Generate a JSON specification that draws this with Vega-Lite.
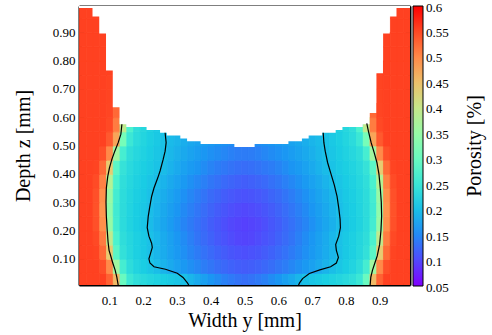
{
  "$schema": "https://vega.github.io/schema/vega-lite/v6.json",
  "width": 331,
  "height": 279,
  "autosize": {"type": "none"},
  "padding": {"left": 79, "top": 6, "right": 82, "bottom": 50},
  "background": "white",
  "config": {
    "view": {"stroke": null},
    "font": "Liberation Serif",
    "axis": {
      "labelFont": "Liberation Serif",
      "titleFont": "Liberation Serif",
      "labelFontSize": 13,
      "titleFontSize": 20,
      "titleFontWeight": "normal",
      "labelColor": "black",
      "titleColor": "black",
      "tickColor": "black",
      "domainColor": "black",
      "domainWidth": 2,
      "grid": false,
      "zindex": 1,
      "labelOverlap": false,
      "labelFlush": false,
      "labelBound": false
    },
    "legend": {
      "labelFont": "Liberation Serif",
      "titleFont": "Liberation Serif",
      "labelColor": "black",
      "titleColor": "black"
    }
  },
  "datasets": {
    "porosity": [
      {"y":0.02,"z":0.025,"p":0.555},{"y":0.04,"z":0.025,"p":0.555},{"y":0.06,"z":0.025,"p":0.555},{"y":0.08,"z":0.025,"p":0.555},{"y":0.1,"z":0.025,"p":0.53},{"y":0.12,"z":0.025,"p":0.456},{"y":0.14,"z":0.025,"p":0.3},{"y":0.16,"z":0.025,"p":0.252},{"y":0.18,"z":0.025,"p":0.239},{"y":0.2,"z":0.025,"p":0.232},{"y":0.22,"z":0.025,"p":0.226},{"y":0.24,"z":0.025,"p":0.221},{"y":0.26,"z":0.025,"p":0.216},{"y":0.28,"z":0.025,"p":0.211},{"y":0.3,"z":0.025,"p":0.206},{"y":0.32,"z":0.025,"p":0.201},{"y":0.34,"z":0.025,"p":0.191},{"y":0.36,"z":0.025,"p":0.18},{"y":0.38,"z":0.025,"p":0.17},{"y":0.4,"z":0.025,"p":0.16},{"y":0.42,"z":0.025,"p":0.152},{"y":0.44,"z":0.025,"p":0.144},{"y":0.46,"z":0.025,"p":0.138},{"y":0.48,"z":0.025,"p":0.133},{"y":0.5,"z":0.025,"p":0.13},{"y":0.52,"z":0.025,"p":0.133},{"y":0.54,"z":0.025,"p":0.138},{"y":0.56,"z":0.025,"p":0.144},{"y":0.58,"z":0.025,"p":0.152},{"y":0.6,"z":0.025,"p":0.16},{"y":0.62,"z":0.025,"p":0.17},{"y":0.64,"z":0.025,"p":0.18},{"y":0.66,"z":0.025,"p":0.191},{"y":0.68,"z":0.025,"p":0.201},{"y":0.7,"z":0.025,"p":0.206},{"y":0.72,"z":0.025,"p":0.211},{"y":0.74,"z":0.025,"p":0.216},{"y":0.76,"z":0.025,"p":0.221},{"y":0.78,"z":0.025,"p":0.226},{"y":0.8,"z":0.025,"p":0.232},{"y":0.82,"z":0.025,"p":0.239},{"y":0.84,"z":0.025,"p":0.252},{"y":0.86,"z":0.025,"p":0.3},{"y":0.88,"z":0.025,"p":0.456},{"y":0.9,"z":0.025,"p":0.53},{"y":0.92,"z":0.025,"p":0.555},{"y":0.94,"z":0.025,"p":0.555},{"y":0.96,"z":0.025,"p":0.555},{"y":0.98,"z":0.025,"p":0.555},
      {"y":0.02,"z":0.075,"p":0.555},{"y":0.04,"z":0.075,"p":0.555},{"y":0.06,"z":0.075,"p":0.555},{"y":0.08,"z":0.075,"p":0.545},{"y":0.1,"z":0.075,"p":0.499},{"y":0.12,"z":0.075,"p":0.36},{"y":0.14,"z":0.075,"p":0.261},{"y":0.16,"z":0.075,"p":0.236},{"y":0.18,"z":0.075,"p":0.224},{"y":0.2,"z":0.075,"p":0.215},{"y":0.22,"z":0.075,"p":0.207},{"y":0.24,"z":0.075,"p":0.199},{"y":0.26,"z":0.075,"p":0.189},{"y":0.28,"z":0.075,"p":0.18},{"y":0.3,"z":0.075,"p":0.171},{"y":0.32,"z":0.075,"p":0.163},{"y":0.34,"z":0.075,"p":0.155},{"y":0.36,"z":0.075,"p":0.148},{"y":0.38,"z":0.075,"p":0.141},{"y":0.4,"z":0.075,"p":0.135},{"y":0.42,"z":0.075,"p":0.129},{"y":0.44,"z":0.075,"p":0.124},{"y":0.46,"z":0.075,"p":0.12},{"y":0.48,"z":0.075,"p":0.117},{"y":0.5,"z":0.075,"p":0.115},{"y":0.52,"z":0.075,"p":0.117},{"y":0.54,"z":0.075,"p":0.12},{"y":0.56,"z":0.075,"p":0.124},{"y":0.58,"z":0.075,"p":0.129},{"y":0.6,"z":0.075,"p":0.135},{"y":0.62,"z":0.075,"p":0.141},{"y":0.64,"z":0.075,"p":0.148},{"y":0.66,"z":0.075,"p":0.155},{"y":0.68,"z":0.075,"p":0.163},{"y":0.7,"z":0.075,"p":0.171},{"y":0.72,"z":0.075,"p":0.18},{"y":0.74,"z":0.075,"p":0.189},{"y":0.76,"z":0.075,"p":0.199},{"y":0.78,"z":0.075,"p":0.207},{"y":0.8,"z":0.075,"p":0.215},{"y":0.82,"z":0.075,"p":0.224},{"y":0.84,"z":0.075,"p":0.236},{"y":0.86,"z":0.075,"p":0.261},{"y":0.88,"z":0.075,"p":0.36},{"y":0.9,"z":0.075,"p":0.499},{"y":0.92,"z":0.075,"p":0.545},{"y":0.94,"z":0.075,"p":0.555},{"y":0.96,"z":0.075,"p":0.555},{"y":0.98,"z":0.075,"p":0.555},
      {"y":0.02,"z":0.125,"p":0.555},{"y":0.04,"z":0.125,"p":0.555},{"y":0.06,"z":0.125,"p":0.553},{"y":0.08,"z":0.125,"p":0.524},{"y":0.1,"z":0.125,"p":0.438},{"y":0.12,"z":0.125,"p":0.284},{"y":0.14,"z":0.125,"p":0.242},{"y":0.16,"z":0.125,"p":0.228},{"y":0.18,"z":0.125,"p":0.218},{"y":0.2,"z":0.125,"p":0.21},{"y":0.22,"z":0.125,"p":0.201},{"y":0.24,"z":0.125,"p":0.191},{"y":0.26,"z":0.125,"p":0.182},{"y":0.28,"z":0.125,"p":0.172},{"y":0.3,"z":0.125,"p":0.163},{"y":0.32,"z":0.125,"p":0.155},{"y":0.34,"z":0.125,"p":0.147},{"y":0.36,"z":0.125,"p":0.139},{"y":0.38,"z":0.125,"p":0.132},{"y":0.4,"z":0.125,"p":0.126},{"y":0.42,"z":0.125,"p":0.12},{"y":0.44,"z":0.125,"p":0.115},{"y":0.46,"z":0.125,"p":0.11},{"y":0.48,"z":0.125,"p":0.107},{"y":0.5,"z":0.125,"p":0.105},{"y":0.52,"z":0.125,"p":0.107},{"y":0.54,"z":0.125,"p":0.11},{"y":0.56,"z":0.125,"p":0.115},{"y":0.58,"z":0.125,"p":0.12},{"y":0.6,"z":0.125,"p":0.126},{"y":0.62,"z":0.125,"p":0.132},{"y":0.64,"z":0.125,"p":0.139},{"y":0.66,"z":0.125,"p":0.147},{"y":0.68,"z":0.125,"p":0.155},{"y":0.7,"z":0.125,"p":0.163},{"y":0.72,"z":0.125,"p":0.172},{"y":0.74,"z":0.125,"p":0.182},{"y":0.76,"z":0.125,"p":0.191},{"y":0.78,"z":0.125,"p":0.201},{"y":0.8,"z":0.125,"p":0.21},{"y":0.82,"z":0.125,"p":0.218},{"y":0.84,"z":0.125,"p":0.228},{"y":0.86,"z":0.125,"p":0.242},{"y":0.88,"z":0.125,"p":0.284},{"y":0.9,"z":0.125,"p":0.438},{"y":0.92,"z":0.125,"p":0.524},{"y":0.94,"z":0.125,"p":0.553},{"y":0.96,"z":0.125,"p":0.555},{"y":0.98,"z":0.125,"p":0.555},
      {"y":0.02,"z":0.175,"p":0.555},{"y":0.04,"z":0.175,"p":0.555},{"y":0.06,"z":0.175,"p":0.549},{"y":0.08,"z":0.175,"p":0.51},{"y":0.1,"z":0.175,"p":0.393},{"y":0.12,"z":0.175,"p":0.268},{"y":0.14,"z":0.175,"p":0.238},{"y":0.16,"z":0.175,"p":0.227},{"y":0.18,"z":0.175,"p":0.218},{"y":0.2,"z":0.175,"p":0.21},{"y":0.22,"z":0.175,"p":0.202},{"y":0.24,"z":0.175,"p":0.192},{"y":0.26,"z":0.175,"p":0.181},{"y":0.28,"z":0.175,"p":0.171},{"y":0.3,"z":0.175,"p":0.161},{"y":0.32,"z":0.175,"p":0.152},{"y":0.34,"z":0.175,"p":0.143},{"y":0.36,"z":0.175,"p":0.134},{"y":0.38,"z":0.175,"p":0.127},{"y":0.4,"z":0.175,"p":0.12},{"y":0.42,"z":0.175,"p":0.113},{"y":0.44,"z":0.175,"p":0.108},{"y":0.46,"z":0.175,"p":0.103},{"y":0.48,"z":0.175,"p":0.099},{"y":0.5,"z":0.175,"p":0.097},{"y":0.52,"z":0.175,"p":0.099},{"y":0.54,"z":0.175,"p":0.103},{"y":0.56,"z":0.175,"p":0.108},{"y":0.58,"z":0.175,"p":0.113},{"y":0.6,"z":0.175,"p":0.12},{"y":0.62,"z":0.175,"p":0.127},{"y":0.64,"z":0.175,"p":0.134},{"y":0.66,"z":0.175,"p":0.143},{"y":0.68,"z":0.175,"p":0.152},{"y":0.7,"z":0.175,"p":0.161},{"y":0.72,"z":0.175,"p":0.171},{"y":0.74,"z":0.175,"p":0.181},{"y":0.76,"z":0.175,"p":0.192},{"y":0.78,"z":0.175,"p":0.202},{"y":0.8,"z":0.175,"p":0.21},{"y":0.82,"z":0.175,"p":0.218},{"y":0.84,"z":0.175,"p":0.227},{"y":0.86,"z":0.175,"p":0.238},{"y":0.88,"z":0.175,"p":0.268},{"y":0.9,"z":0.175,"p":0.393},{"y":0.92,"z":0.175,"p":0.51},{"y":0.94,"z":0.175,"p":0.549},{"y":0.96,"z":0.175,"p":0.555},{"y":0.98,"z":0.175,"p":0.555},
      {"y":0.02,"z":0.225,"p":0.555},{"y":0.04,"z":0.225,"p":0.555},{"y":0.06,"z":0.225,"p":0.544},{"y":0.08,"z":0.225,"p":0.495},{"y":0.1,"z":0.225,"p":0.35},{"y":0.12,"z":0.225,"p":0.259},{"y":0.14,"z":0.225,"p":0.234},{"y":0.16,"z":0.225,"p":0.223},{"y":0.18,"z":0.225,"p":0.214},{"y":0.2,"z":0.225,"p":0.206},{"y":0.22,"z":0.225,"p":0.197},{"y":0.24,"z":0.225,"p":0.186},{"y":0.26,"z":0.225,"p":0.176},{"y":0.28,"z":0.225,"p":0.166},{"y":0.3,"z":0.225,"p":0.156},{"y":0.32,"z":0.225,"p":0.147},{"y":0.34,"z":0.225,"p":0.139},{"y":0.36,"z":0.225,"p":0.131},{"y":0.38,"z":0.225,"p":0.124},{"y":0.4,"z":0.225,"p":0.117},{"y":0.42,"z":0.225,"p":0.111},{"y":0.44,"z":0.225,"p":0.105},{"y":0.46,"z":0.225,"p":0.1},{"y":0.48,"z":0.225,"p":0.097},{"y":0.5,"z":0.225,"p":0.095},{"y":0.52,"z":0.225,"p":0.097},{"y":0.54,"z":0.225,"p":0.1},{"y":0.56,"z":0.225,"p":0.105},{"y":0.58,"z":0.225,"p":0.111},{"y":0.6,"z":0.225,"p":0.117},{"y":0.62,"z":0.225,"p":0.124},{"y":0.64,"z":0.225,"p":0.131},{"y":0.66,"z":0.225,"p":0.139},{"y":0.68,"z":0.225,"p":0.147},{"y":0.7,"z":0.225,"p":0.156},{"y":0.72,"z":0.225,"p":0.166},{"y":0.74,"z":0.225,"p":0.176},{"y":0.76,"z":0.225,"p":0.186},{"y":0.78,"z":0.225,"p":0.197},{"y":0.8,"z":0.225,"p":0.206},{"y":0.82,"z":0.225,"p":0.214},{"y":0.84,"z":0.225,"p":0.223},{"y":0.86,"z":0.225,"p":0.234},{"y":0.88,"z":0.225,"p":0.259},{"y":0.9,"z":0.225,"p":0.35},{"y":0.92,"z":0.225,"p":0.495},{"y":0.94,"z":0.225,"p":0.544},{"y":0.96,"z":0.225,"p":0.555},{"y":0.98,"z":0.225,"p":0.555},
      {"y":0.02,"z":0.275,"p":0.555},{"y":0.04,"z":0.275,"p":0.555},{"y":0.06,"z":0.275,"p":0.543},{"y":0.08,"z":0.275,"p":0.491},{"y":0.1,"z":0.275,"p":0.342},{"y":0.12,"z":0.275,"p":0.257},{"y":0.14,"z":0.275,"p":0.235},{"y":0.16,"z":0.275,"p":0.224},{"y":0.18,"z":0.275,"p":0.215},{"y":0.2,"z":0.275,"p":0.208},{"y":0.22,"z":0.275,"p":0.199},{"y":0.24,"z":0.275,"p":0.189},{"y":0.26,"z":0.275,"p":0.179},{"y":0.28,"z":0.275,"p":0.169},{"y":0.3,"z":0.275,"p":0.16},{"y":0.32,"z":0.275,"p":0.151},{"y":0.34,"z":0.275,"p":0.143},{"y":0.36,"z":0.275,"p":0.135},{"y":0.38,"z":0.275,"p":0.128},{"y":0.4,"z":0.275,"p":0.121},{"y":0.42,"z":0.275,"p":0.115},{"y":0.44,"z":0.275,"p":0.11},{"y":0.46,"z":0.275,"p":0.105},{"y":0.48,"z":0.275,"p":0.102},{"y":0.5,"z":0.275,"p":0.1},{"y":0.52,"z":0.275,"p":0.102},{"y":0.54,"z":0.275,"p":0.105},{"y":0.56,"z":0.275,"p":0.11},{"y":0.58,"z":0.275,"p":0.115},{"y":0.6,"z":0.275,"p":0.121},{"y":0.62,"z":0.275,"p":0.128},{"y":0.64,"z":0.275,"p":0.135},{"y":0.66,"z":0.275,"p":0.143},{"y":0.68,"z":0.275,"p":0.151},{"y":0.7,"z":0.275,"p":0.16},{"y":0.72,"z":0.275,"p":0.169},{"y":0.74,"z":0.275,"p":0.179},{"y":0.76,"z":0.275,"p":0.189},{"y":0.78,"z":0.275,"p":0.199},{"y":0.8,"z":0.275,"p":0.208},{"y":0.82,"z":0.275,"p":0.215},{"y":0.84,"z":0.275,"p":0.224},{"y":0.86,"z":0.275,"p":0.235},{"y":0.88,"z":0.275,"p":0.257},{"y":0.9,"z":0.275,"p":0.342},{"y":0.92,"z":0.275,"p":0.491},{"y":0.94,"z":0.275,"p":0.543},{"y":0.96,"z":0.275,"p":0.555},{"y":0.98,"z":0.275,"p":0.555},
      {"y":0.02,"z":0.325,"p":0.555},{"y":0.04,"z":0.325,"p":0.555},{"y":0.06,"z":0.325,"p":0.544},{"y":0.08,"z":0.325,"p":0.495},{"y":0.1,"z":0.325,"p":0.351},{"y":0.12,"z":0.325,"p":0.26},{"y":0.14,"z":0.325,"p":0.236},{"y":0.16,"z":0.325,"p":0.225},{"y":0.18,"z":0.325,"p":0.217},{"y":0.2,"z":0.325,"p":0.21},{"y":0.22,"z":0.325,"p":0.202},{"y":0.24,"z":0.325,"p":0.192},{"y":0.26,"z":0.325,"p":0.183},{"y":0.28,"z":0.325,"p":0.174},{"y":0.3,"z":0.325,"p":0.165},{"y":0.32,"z":0.325,"p":0.156},{"y":0.34,"z":0.325,"p":0.148},{"y":0.36,"z":0.325,"p":0.141},{"y":0.38,"z":0.325,"p":0.134},{"y":0.4,"z":0.325,"p":0.127},{"y":0.42,"z":0.325,"p":0.122},{"y":0.44,"z":0.325,"p":0.116},{"y":0.46,"z":0.325,"p":0.112},{"y":0.48,"z":0.325,"p":0.109},{"y":0.5,"z":0.325,"p":0.107},{"y":0.52,"z":0.325,"p":0.109},{"y":0.54,"z":0.325,"p":0.112},{"y":0.56,"z":0.325,"p":0.116},{"y":0.58,"z":0.325,"p":0.122},{"y":0.6,"z":0.325,"p":0.127},{"y":0.62,"z":0.325,"p":0.134},{"y":0.64,"z":0.325,"p":0.141},{"y":0.66,"z":0.325,"p":0.148},{"y":0.68,"z":0.325,"p":0.156},{"y":0.7,"z":0.325,"p":0.165},{"y":0.72,"z":0.325,"p":0.174},{"y":0.74,"z":0.325,"p":0.183},{"y":0.76,"z":0.325,"p":0.192},{"y":0.78,"z":0.325,"p":0.202},{"y":0.8,"z":0.325,"p":0.21},{"y":0.82,"z":0.325,"p":0.217},{"y":0.84,"z":0.325,"p":0.225},{"y":0.86,"z":0.325,"p":0.236},{"y":0.88,"z":0.325,"p":0.26},{"y":0.9,"z":0.325,"p":0.351},{"y":0.92,"z":0.325,"p":0.495},{"y":0.94,"z":0.325,"p":0.544},{"y":0.96,"z":0.325,"p":0.555},{"y":0.98,"z":0.325,"p":0.555},
      {"y":0.02,"z":0.375,"p":0.555},{"y":0.04,"z":0.375,"p":0.555},{"y":0.06,"z":0.375,"p":0.548},{"y":0.08,"z":0.375,"p":0.506},{"y":0.1,"z":0.375,"p":0.381},{"y":0.12,"z":0.375,"p":0.267},{"y":0.14,"z":0.375,"p":0.239},{"y":0.16,"z":0.375,"p":0.228},{"y":0.18,"z":0.375,"p":0.22},{"y":0.2,"z":0.375,"p":0.213},{"y":0.22,"z":0.375,"p":0.206},{"y":0.24,"z":0.375,"p":0.199},{"y":0.26,"z":0.375,"p":0.189},{"y":0.28,"z":0.375,"p":0.18},{"y":0.3,"z":0.375,"p":0.172},{"y":0.32,"z":0.375,"p":0.164},{"y":0.34,"z":0.375,"p":0.156},{"y":0.36,"z":0.375,"p":0.149},{"y":0.38,"z":0.375,"p":0.143},{"y":0.4,"z":0.375,"p":0.136},{"y":0.42,"z":0.375,"p":0.131},{"y":0.44,"z":0.375,"p":0.126},{"y":0.46,"z":0.375,"p":0.122},{"y":0.48,"z":0.375,"p":0.119},{"y":0.5,"z":0.375,"p":0.117},{"y":0.52,"z":0.375,"p":0.119},{"y":0.54,"z":0.375,"p":0.122},{"y":0.56,"z":0.375,"p":0.126},{"y":0.58,"z":0.375,"p":0.131},{"y":0.6,"z":0.375,"p":0.136},{"y":0.62,"z":0.375,"p":0.143},{"y":0.64,"z":0.375,"p":0.149},{"y":0.66,"z":0.375,"p":0.156},{"y":0.68,"z":0.375,"p":0.164},{"y":0.7,"z":0.375,"p":0.172},{"y":0.72,"z":0.375,"p":0.18},{"y":0.74,"z":0.375,"p":0.189},{"y":0.76,"z":0.375,"p":0.199},{"y":0.78,"z":0.375,"p":0.206},{"y":0.8,"z":0.375,"p":0.213},{"y":0.82,"z":0.375,"p":0.22},{"y":0.84,"z":0.375,"p":0.228},{"y":0.86,"z":0.375,"p":0.239},{"y":0.88,"z":0.375,"p":0.267},{"y":0.9,"z":0.375,"p":0.381},{"y":0.92,"z":0.375,"p":0.506},{"y":0.94,"z":0.375,"p":0.548},{"y":0.96,"z":0.375,"p":0.555},{"y":0.98,"z":0.375,"p":0.555},
      {"y":0.02,"z":0.425,"p":0.555},{"y":0.04,"z":0.425,"p":0.555},{"y":0.06,"z":0.425,"p":0.553},{"y":0.08,"z":0.425,"p":0.524},{"y":0.1,"z":0.425,"p":0.438},{"y":0.12,"z":0.425,"p":0.285},{"y":0.14,"z":0.425,"p":0.245},{"y":0.16,"z":0.425,"p":0.232},{"y":0.18,"z":0.425,"p":0.224},{"y":0.2,"z":0.425,"p":0.217},{"y":0.22,"z":0.425,"p":0.211},{"y":0.24,"z":0.425,"p":0.204},{"y":0.26,"z":0.425,"p":0.197},{"y":0.28,"z":0.425,"p":0.188},{"y":0.3,"z":0.425,"p":0.18},{"y":0.32,"z":0.425,"p":0.172},{"y":0.34,"z":0.425,"p":0.165},{"y":0.36,"z":0.425,"p":0.159},{"y":0.38,"z":0.425,"p":0.152},{"y":0.4,"z":0.425,"p":0.146},{"y":0.42,"z":0.425,"p":0.141},{"y":0.44,"z":0.425,"p":0.137},{"y":0.46,"z":0.425,"p":0.133},{"y":0.48,"z":0.425,"p":0.13},{"y":0.5,"z":0.425,"p":0.128},{"y":0.52,"z":0.425,"p":0.13},{"y":0.54,"z":0.425,"p":0.133},{"y":0.56,"z":0.425,"p":0.137},{"y":0.58,"z":0.425,"p":0.141},{"y":0.6,"z":0.425,"p":0.146},{"y":0.62,"z":0.425,"p":0.152},{"y":0.64,"z":0.425,"p":0.159},{"y":0.66,"z":0.425,"p":0.165},{"y":0.68,"z":0.425,"p":0.172},{"y":0.7,"z":0.425,"p":0.18},{"y":0.72,"z":0.425,"p":0.188},{"y":0.74,"z":0.425,"p":0.197},{"y":0.76,"z":0.425,"p":0.204},{"y":0.78,"z":0.425,"p":0.211},{"y":0.8,"z":0.425,"p":0.217},{"y":0.82,"z":0.425,"p":0.224},{"y":0.84,"z":0.425,"p":0.232},{"y":0.86,"z":0.425,"p":0.245},{"y":0.88,"z":0.425,"p":0.285},{"y":0.9,"z":0.425,"p":0.438},{"y":0.92,"z":0.425,"p":0.524},{"y":0.94,"z":0.425,"p":0.553},{"y":0.96,"z":0.425,"p":0.555},{"y":0.98,"z":0.425,"p":0.555},
      {"y":0.02,"z":0.475,"p":0.555},{"y":0.04,"z":0.475,"p":0.555},{"y":0.06,"z":0.475,"p":0.555},{"y":0.08,"z":0.475,"p":0.545},{"y":0.1,"z":0.475,"p":0.499},{"y":0.12,"z":0.475,"p":0.36},{"y":0.14,"z":0.475,"p":0.262},{"y":0.16,"z":0.475,"p":0.238},{"y":0.18,"z":0.475,"p":0.229},{"y":0.2,"z":0.475,"p":0.221},{"y":0.22,"z":0.475,"p":0.214},{"y":0.24,"z":0.475,"p":0.207},{"y":0.26,"z":0.475,"p":0.201},{"y":0.28,"z":0.475,"p":0.193},{"y":0.3,"z":0.475,"p":0.186},{"y":0.32,"z":0.475,"p":0.179},{"y":0.34,"z":0.475,"p":0.173},{"y":0.36,"z":0.475,"p":0.167},{"y":0.38,"z":0.475,"p":0.161},{"y":0.4,"z":0.475,"p":0.156},{"y":0.42,"z":0.475,"p":0.152},{"y":0.44,"z":0.475,"p":0.148},{"y":0.46,"z":0.475,"p":0.144},{"y":0.48,"z":0.475,"p":0.141},{"y":0.5,"z":0.475,"p":0.14},{"y":0.52,"z":0.475,"p":0.141},{"y":0.54,"z":0.475,"p":0.144},{"y":0.56,"z":0.475,"p":0.148},{"y":0.58,"z":0.475,"p":0.152},{"y":0.6,"z":0.475,"p":0.156},{"y":0.62,"z":0.475,"p":0.161},{"y":0.64,"z":0.475,"p":0.167},{"y":0.66,"z":0.475,"p":0.173},{"y":0.68,"z":0.475,"p":0.179},{"y":0.7,"z":0.475,"p":0.186},{"y":0.72,"z":0.475,"p":0.193},{"y":0.74,"z":0.475,"p":0.201},{"y":0.76,"z":0.475,"p":0.207},{"y":0.78,"z":0.475,"p":0.214},{"y":0.8,"z":0.475,"p":0.221},{"y":0.82,"z":0.475,"p":0.229},{"y":0.84,"z":0.475,"p":0.238},{"y":0.86,"z":0.475,"p":0.262},{"y":0.88,"z":0.475,"p":0.36},{"y":0.9,"z":0.475,"p":0.499},{"y":0.92,"z":0.475,"p":0.545},{"y":0.94,"z":0.475,"p":0.555},{"y":0.96,"z":0.475,"p":0.555},{"y":0.98,"z":0.475,"p":0.555},
      {"y":0.02,"z":0.525,"p":0.555},{"y":0.04,"z":0.525,"p":0.555},{"y":0.06,"z":0.525,"p":0.555},{"y":0.08,"z":0.525,"p":0.555},{"y":0.1,"z":0.525,"p":0.537},{"y":0.12,"z":0.525,"p":0.475},{"y":0.14,"z":0.525,"p":0.314},{"y":0.16,"z":0.525,"p":0.252},{"y":0.18,"z":0.525,"p":0.234},{"y":0.2,"z":0.525,"p":0.225},{"y":0.22,"z":0.525,"p":0.217},{"y":0.24,"z":0.525,"p":0.21},{"y":0.26,"z":0.525,"p":0.203},{"y":0.28,"z":0.525,"p":0.196},{"y":0.3,"z":0.525,"p":0.19},{"y":0.32,"z":0.525,"p":0.184},{"y":0.34,"z":0.525,"p":0.178},{"y":0.36,"z":0.525,"p":0.173},{"y":0.38,"z":0.525,"p":0.168},{"y":0.4,"z":0.525,"p":0.164},{"y":0.42,"z":0.525,"p":0.16},{"y":0.44,"z":0.525,"p":0.157},{"y":0.46,"z":0.525,"p":0.154},{"y":0.48,"z":0.525,"p":0.151},{"y":0.5,"z":0.525,"p":0.15},{"y":0.52,"z":0.525,"p":0.151},{"y":0.54,"z":0.525,"p":0.154},{"y":0.56,"z":0.525,"p":0.157},{"y":0.58,"z":0.525,"p":0.16},{"y":0.6,"z":0.525,"p":0.164},{"y":0.62,"z":0.525,"p":0.168},{"y":0.64,"z":0.525,"p":0.173},{"y":0.66,"z":0.525,"p":0.178},{"y":0.68,"z":0.525,"p":0.184},{"y":0.7,"z":0.525,"p":0.19},{"y":0.72,"z":0.525,"p":0.196},{"y":0.74,"z":0.525,"p":0.203},{"y":0.76,"z":0.525,"p":0.21},{"y":0.78,"z":0.525,"p":0.217},{"y":0.8,"z":0.525,"p":0.225},{"y":0.82,"z":0.525,"p":0.234},{"y":0.84,"z":0.525,"p":0.252},{"y":0.86,"z":0.525,"p":0.314},{"y":0.88,"z":0.525,"p":0.475},{"y":0.9,"z":0.525,"p":0.537},{"y":0.92,"z":0.525,"p":0.555},{"y":0.94,"z":0.525,"p":0.555},{"y":0.96,"z":0.525,"p":0.555},{"y":0.98,"z":0.525,"p":0.555},
      {"y":0.02,"z":0.575,"p":0.555},{"y":0.04,"z":0.575,"p":0.555},{"y":0.06,"z":0.575,"p":0.555},{"y":0.08,"z":0.575,"p":0.555},{"y":0.1,"z":0.575,"p":0.549},{"y":0.12,"z":0.575,"p":0.51},{"y":0.14,"z":0.575,"p":0.393},{"y":0.16,"z":0.575,"p":0.269},{"y":0.18,"z":0.575,"p":0.239},{"y":0.2,"z":0.575,"p":0.228},{"y":0.22,"z":0.575,"p":0.219},{"y":0.24,"z":0.575,"p":0.211},
      {"y":0.76,"z":0.575,"p":0.211},{"y":0.78,"z":0.575,"p":0.219},{"y":0.8,"z":0.575,"p":0.228},{"y":0.82,"z":0.575,"p":0.239},{"y":0.84,"z":0.575,"p":0.269},{"y":0.86,"z":0.575,"p":0.393},{"y":0.88,"z":0.575,"p":0.51},{"y":0.9,"z":0.575,"p":0.549},{"y":0.92,"z":0.575,"p":0.555},{"y":0.94,"z":0.575,"p":0.555},{"y":0.96,"z":0.575,"p":0.555},{"y":0.98,"z":0.575,"p":0.555},
      {"y":0.02,"z":0.625,"p":0.555},{"y":0.04,"z":0.625,"p":0.555},{"y":0.06,"z":0.625,"p":0.555},{"y":0.08,"z":0.625,"p":0.555},{"y":0.1,"z":0.625,"p":0.552},{"y":0.12,"z":0.625,"p":0.525},
      {"y":0.88,"z":0.625,"p":0.525},{"y":0.9,"z":0.625,"p":0.552},{"y":0.92,"z":0.625,"p":0.555},{"y":0.94,"z":0.625,"p":0.555},{"y":0.96,"z":0.625,"p":0.555},{"y":0.98,"z":0.625,"p":0.555},
      {"y":0.02,"z":0.675,"p":0.555},{"y":0.04,"z":0.675,"p":0.555},{"y":0.06,"z":0.675,"p":0.555},{"y":0.08,"z":0.675,"p":0.555},{"y":0.1,"z":0.675,"p":0.553},
      {"y":0.9,"z":0.675,"p":0.553},{"y":0.92,"z":0.675,"p":0.555},{"y":0.94,"z":0.675,"p":0.555},{"y":0.96,"z":0.675,"p":0.555},{"y":0.98,"z":0.675,"p":0.555},
      {"y":0.02,"z":0.725,"p":0.555},{"y":0.04,"z":0.725,"p":0.555},{"y":0.06,"z":0.725,"p":0.555},{"y":0.08,"z":0.725,"p":0.555},{"y":0.1,"z":0.725,"p":0.553},
      {"y":0.9,"z":0.725,"p":0.553},{"y":0.92,"z":0.725,"p":0.555},{"y":0.94,"z":0.725,"p":0.555},{"y":0.96,"z":0.725,"p":0.555},{"y":0.98,"z":0.725,"p":0.555},
      {"y":0.02,"z":0.775,"p":0.555},{"y":0.04,"z":0.775,"p":0.555},{"y":0.06,"z":0.775,"p":0.555},{"y":0.08,"z":0.775,"p":0.555},{"y":0.1,"z":0.775,"p":0.555},
      {"y":0.9,"z":0.775,"p":0.555},{"y":0.92,"z":0.775,"p":0.555},{"y":0.94,"z":0.775,"p":0.555},{"y":0.96,"z":0.775,"p":0.555},{"y":0.98,"z":0.775,"p":0.555},
      {"y":0.02,"z":0.825,"p":0.555},{"y":0.04,"z":0.825,"p":0.555},{"y":0.06,"z":0.825,"p":0.555},{"y":0.08,"z":0.825,"p":0.555},
      {"y":0.92,"z":0.825,"p":0.555},{"y":0.94,"z":0.825,"p":0.555},{"y":0.96,"z":0.825,"p":0.555},{"y":0.98,"z":0.825,"p":0.555},
      {"y":0.02,"z":0.875,"p":0.555},{"y":0.04,"z":0.875,"p":0.555},{"y":0.06,"z":0.875,"p":0.555},{"y":0.08,"z":0.875,"p":0.555},
      {"y":0.92,"z":0.875,"p":0.555},{"y":0.94,"z":0.875,"p":0.555},{"y":0.96,"z":0.875,"p":0.555},{"y":0.98,"z":0.875,"p":0.555},
      {"y":0.02,"z":0.925,"p":0.555},{"y":0.04,"z":0.925,"p":0.555},{"y":0.06,"z":0.925,"p":0.555},
      {"y":0.94,"z":0.925,"p":0.555},{"y":0.96,"z":0.925,"p":0.555},{"y":0.98,"z":0.925,"p":0.555},
      {"y":0.02,"z":0.975,"p":0.555},{"y":0.04,"z":0.975,"p":0.555},{"y":0.06,"z":0.975,"p":0.555},
      {"y":0.94,"z":0.975,"p":0.555},{"y":0.96,"z":0.975,"p":0.555},{"y":0.98,"z":0.975,"p":0.555}
    ],
    "surface": [
      {"y":0.01,"top":0.985},{"y":0.05,"top":0.955},{"y":0.07,"top":0.895},{"y":0.09,"top":0.765},{"y":0.11,"top":0.635},{"y":0.13,"top":0.575},{"y":0.15,"top":0.565},{"y":0.21,"top":0.555},{"y":0.25,"top":0.545},{"y":0.27,"top":0.535},{"y":0.31,"top":0.525},{"y":0.33,"top":0.515},{"y":0.37,"top":0.505},{"y":0.47,"top":0.495},{"y":0.53,"top":0.505},{"y":0.63,"top":0.515},{"y":0.67,"top":0.525},{"y":0.69,"top":0.535},{"y":0.73,"top":0.545},{"y":0.77,"top":0.555},{"y":0.79,"top":0.565},{"y":0.85,"top":0.575},{"y":0.87,"top":0.615},{"y":0.89,"top":0.755},{"y":0.91,"top":0.895},{"y":0.93,"top":0.955},{"y":0.95,"top":0.985},{"y":0.99,"top":0.985}
    ],
    "contours": [
      {"c":"a","o":1,"y":0.137,"z":0.575},{"c":"a","o":2,"y":0.134,"z":0.54},{"c":"a","o":3,"y":0.126,"z":0.51},{"c":"a","o":4,"y":0.116,"z":0.48},{"c":"a","o":5,"y":0.107,"z":0.45},{"c":"a","o":6,"y":0.1,"z":0.42},{"c":"a","o":7,"y":0.095,"z":0.39},{"c":"a","o":8,"y":0.091,"z":0.35},{"c":"a","o":9,"y":0.09,"z":0.3},{"c":"a","o":10,"y":0.091,"z":0.25},{"c":"a","o":11,"y":0.093,"z":0.21},{"c":"a","o":12,"y":0.096,"z":0.16},{"c":"a","o":13,"y":0.099,"z":0.13},{"c":"a","o":14,"y":0.104,"z":0.11},{"c":"a","o":15,"y":0.11,"z":0.085},{"c":"a","o":16,"y":0.117,"z":0.06},{"c":"a","o":17,"y":0.122,"z":0.035},{"c":"a","o":18,"y":0.126,"z":0.0075},
      {"c":"b","o":1,"y":0.265,"z":0.545},{"c":"b","o":2,"y":0.268,"z":0.51},{"c":"b","o":3,"y":0.265,"z":0.48},{"c":"b","o":4,"y":0.259,"z":0.45},{"c":"b","o":5,"y":0.25,"z":0.41},{"c":"b","o":6,"y":0.243,"z":0.385},{"c":"b","o":7,"y":0.232,"z":0.35},{"c":"b","o":8,"y":0.225,"z":0.32},{"c":"b","o":9,"y":0.219,"z":0.28},{"c":"b","o":10,"y":0.215,"z":0.25},{"c":"b","o":11,"y":0.212,"z":0.21},{"c":"b","o":12,"y":0.217,"z":0.18},{"c":"b","o":13,"y":0.225,"z":0.155},{"c":"b","o":14,"y":0.227,"z":0.14},{"c":"b","o":15,"y":0.222,"z":0.12},{"c":"b","o":16,"y":0.217,"z":0.1},{"c":"b","o":17,"y":0.22,"z":0.085},{"c":"b","o":18,"y":0.232,"z":0.072},{"c":"b","o":19,"y":0.266,"z":0.063},{"c":"b","o":20,"y":0.301,"z":0.049},{"c":"b","o":21,"y":0.318,"z":0.034},{"c":"b","o":22,"y":0.331,"z":0.015},{"c":"b","o":23,"y":0.335,"z":0.0075},
      {"c":"c","o":1,"y":0.733,"z":0.545},{"c":"c","o":2,"y":0.735,"z":0.51},{"c":"c","o":3,"y":0.739,"z":0.48},{"c":"c","o":4,"y":0.746,"z":0.44},{"c":"c","o":5,"y":0.756,"z":0.4},{"c":"c","o":6,"y":0.766,"z":0.36},{"c":"c","o":7,"y":0.774,"z":0.32},{"c":"c","o":8,"y":0.779,"z":0.28},{"c":"c","o":9,"y":0.783,"z":0.24},{"c":"c","o":10,"y":0.784,"z":0.21},{"c":"c","o":11,"y":0.779,"z":0.18},{"c":"c","o":12,"y":0.77,"z":0.15},{"c":"c","o":13,"y":0.772,"z":0.13},{"c":"c","o":14,"y":0.778,"z":0.105},{"c":"c","o":15,"y":0.772,"z":0.085},{"c":"c","o":16,"y":0.755,"z":0.072},{"c":"c","o":17,"y":0.723,"z":0.061},{"c":"c","o":18,"y":0.692,"z":0.048},{"c":"c","o":19,"y":0.672,"z":0.03},{"c":"c","o":20,"y":0.663,"z":0.015},{"c":"c","o":21,"y":0.66,"z":0.0075},
      {"c":"d","o":1,"y":0.862,"z":0.578},{"c":"d","o":2,"y":0.867,"z":0.55},{"c":"d","o":3,"y":0.875,"z":0.51},{"c":"d","o":4,"y":0.884,"z":0.475},{"c":"d","o":5,"y":0.892,"z":0.44},{"c":"d","o":6,"y":0.898,"z":0.4},{"c":"d","o":7,"y":0.902,"z":0.35},{"c":"d","o":8,"y":0.905,"z":0.3},{"c":"d","o":9,"y":0.906,"z":0.25},{"c":"d","o":10,"y":0.904,"z":0.2},{"c":"d","o":11,"y":0.9,"z":0.15},{"c":"d","o":12,"y":0.893,"z":0.11},{"c":"d","o":13,"y":0.886,"z":0.085},{"c":"d","o":14,"y":0.879,"z":0.06},{"c":"d","o":15,"y":0.874,"z":0.035},{"c":"d","o":16,"y":0.872,"z":0.0075}
    ]
  },
  "layer": [
    {
      "data": {"name": "porosity"},
      "mark": {"type": "rect", "clip": true, "binSpacing": 0, "strokeWidth": 0.8, "stroke": {"expr": "scale('color', datum.p)"}},
      "encoding": {
        "x": {
          "field": "y", "type": "quantitative",
          "bin": {"step": 0.02, "anchor": 0.01, "extent": [0.01, 0.99], "nice": false},
          "scale": {"domain": [0.01, 0.99], "nice": false, "zero": false},
          "title": "Width y [mm]",
          "axis": {
            "orient": "bottom",
            "values": [0.01,0.02,0.03,0.04,0.05,0.06,0.07,0.08,0.09,0.1,0.11,0.12,0.13,0.14,0.15,0.16,0.17,0.18,0.19,0.2,0.21,0.22,0.23,0.24,0.25,0.26,0.27,0.28,0.29,0.3,0.31,0.32,0.33,0.34,0.35,0.36,0.37,0.38,0.39,0.4,0.41,0.42,0.43,0.44,0.45,0.46,0.47,0.48,0.49,0.5,0.51,0.52,0.53,0.54,0.55,0.56,0.57,0.58,0.59,0.6,0.61,0.62,0.63,0.64,0.65,0.66,0.67,0.68,0.69,0.7,0.71,0.72,0.73,0.74,0.75,0.76,0.77,0.78,0.79,0.8,0.81,0.82,0.83,0.84,0.85,0.86,0.87,0.88,0.89,0.9,0.91,0.92,0.93,0.94,0.95,0.96,0.97,0.98,0.99],
            "labelExpr": "abs(datum.value*10-round(datum.value*10))<0.001 ? format(datum.value,'.1f') : ''",
            "tickSize": {"condition": {"test": "abs(datum.value*10-round(datum.value*10))<0.001", "value": -5}, "value": -2.5},
            "tickWidth": {"condition": {"test": "abs(datum.value*10-round(datum.value*10))<0.001", "value": 1.3}, "value": 0.8},
            "labelPadding": 14,
            "titlePadding": 1
          }
        },
        "y": {
          "field": "z", "type": "quantitative",
          "bin": {"step": 0.05, "anchor": 0, "extent": [0, 1], "nice": false},
          "scale": {"domain": [0.0075, 0.9925], "nice": false, "zero": false},
          "title": "Depth z [mm]",
          "axis": {
            "orient": "left",
            "values": [0.01,0.02,0.03,0.04,0.05,0.06,0.07,0.08,0.09,0.1,0.11,0.12,0.13,0.14,0.15,0.16,0.17,0.18,0.19,0.2,0.21,0.22,0.23,0.24,0.25,0.26,0.27,0.28,0.29,0.3,0.31,0.32,0.33,0.34,0.35,0.36,0.37,0.38,0.39,0.4,0.41,0.42,0.43,0.44,0.45,0.46,0.47,0.48,0.49,0.5,0.51,0.52,0.53,0.54,0.55,0.56,0.57,0.58,0.59,0.6,0.61,0.62,0.63,0.64,0.65,0.66,0.67,0.68,0.69,0.7,0.71,0.72,0.73,0.74,0.75,0.76,0.77,0.78,0.79,0.8,0.81,0.82,0.83,0.84,0.85,0.86,0.87,0.88,0.89,0.9,0.91,0.92,0.93,0.94,0.95,0.96,0.97,0.98,0.99],
            "labelExpr": "abs(datum.value*10-round(datum.value*10))<0.001 ? format(datum.value,'.2f') : ''",
            "tickSize": {"condition": {"test": "abs(datum.value*10-round(datum.value*10))<0.001", "value": -5}, "value": -2.5},
            "tickWidth": {"condition": {"test": "abs(datum.value*10-round(datum.value*10))<0.001", "value": 1.3}, "value": 0.8},
            "labelPadding": 9,
            "titlePadding": 19
          }
        },
        "color": {
          "field": "p", "type": "quantitative",
          "title": "Porosity [%]",
          "scale": {
            "domain": [0.05,0.105,0.16,0.215,0.27,0.325,0.38,0.435,0.49,0.545,0.6],
            "range": ["#8000ff","#4d4ffc","#1a96f3","#1acee3","#4df3ce","#80ffb4","#b3f396","#e6ce74","#ff964f","#ff4f28","#ff0000"],
            "interpolate": "rgb"
          },
          "legend": {
            "type": "gradient",
            "orient": "right",
            "offset": 2,
            "direction": "vertical",
            "gradientLength": 280,
            "gradientThickness": 10,
            "gradientStrokeColor": "black",
            "gradientStrokeWidth": 1,
            "values": [0.05,0.1,0.15,0.2,0.25,0.3,0.35,0.4,0.45,0.5,0.55,0.6],
            "labelExpr": "format(datum.value, '.2~f')",
            "labelFontSize": 13,
            "labelOffset": 3,
            "labelOverlap": false,
            "titleFontSize": 20,
            "titleFontWeight": "normal",
            "titleOrient": "right",
            "titleAnchor": "middle",
            "titlePadding": 36,
            "encode": {
              "labels": {"update": {"baseline": {"value": "middle"}, "dy": {"value": 1.5}}},
              "title": {"update": {"angle": {"value": -90}}}
            }
          }
        }
      }
    },
    {
      "data": {"name": "surface"},
      "mark": {"type": "area", "interpolate": "step-after", "color": "white", "clip": true},
      "encoding": {
        "x": {"field": "y", "type": "quantitative", "scale": {"domain": [0.01, 0.99], "nice": false, "zero": false}, "axis": null},
        "y": {"field": "top", "type": "quantitative", "scale": {"domain": [0.0075, 0.9925], "nice": false, "zero": false}, "axis": null},
        "y2": {"datum": 1}
      }
    },
    {
      "data": {"name": "contours"},
      "mark": {"type": "line", "color": "black", "strokeWidth": 1.2, "clip": true},
      "encoding": {
        "x": {
          "field": "y", "type": "quantitative",
          "scale": {"domain": [0.01, 0.99], "nice": false, "zero": false},
          "axis": {
            "orient": "top", "title": null, "labels": false,
            "values": [0.01,0.02,0.03,0.04,0.05,0.06,0.07,0.08,0.09,0.1,0.11,0.12,0.13,0.14,0.15,0.16,0.17,0.18,0.19,0.2,0.21,0.22,0.23,0.24,0.25,0.26,0.27,0.28,0.29,0.3,0.31,0.32,0.33,0.34,0.35,0.36,0.37,0.38,0.39,0.4,0.41,0.42,0.43,0.44,0.45,0.46,0.47,0.48,0.49,0.5,0.51,0.52,0.53,0.54,0.55,0.56,0.57,0.58,0.59,0.6,0.61,0.62,0.63,0.64,0.65,0.66,0.67,0.68,0.69,0.7,0.71,0.72,0.73,0.74,0.75,0.76,0.77,0.78,0.79,0.8,0.81,0.82,0.83,0.84,0.85,0.86,0.87,0.88,0.89,0.9,0.91,0.92,0.93,0.94,0.95,0.96,0.97,0.98,0.99],
            "tickSize": {"condition": {"test": "abs(datum.value*10-round(datum.value*10))<0.001", "value": -5}, "value": -2.5},
            "tickWidth": {"condition": {"test": "abs(datum.value*10-round(datum.value*10))<0.001", "value": 1.3}, "value": 0.8}
          }
        },
        "y": {
          "field": "z", "type": "quantitative",
          "scale": {"domain": [0.0075, 0.9925], "nice": false, "zero": false},
          "axis": {
            "orient": "right", "title": null, "labels": false,
            "values": [0.01,0.02,0.03,0.04,0.05,0.06,0.07,0.08,0.09,0.1,0.11,0.12,0.13,0.14,0.15,0.16,0.17,0.18,0.19,0.2,0.21,0.22,0.23,0.24,0.25,0.26,0.27,0.28,0.29,0.3,0.31,0.32,0.33,0.34,0.35,0.36,0.37,0.38,0.39,0.4,0.41,0.42,0.43,0.44,0.45,0.46,0.47,0.48,0.49,0.5,0.51,0.52,0.53,0.54,0.55,0.56,0.57,0.58,0.59,0.6,0.61,0.62,0.63,0.64,0.65,0.66,0.67,0.68,0.69,0.7,0.71,0.72,0.73,0.74,0.75,0.76,0.77,0.78,0.79,0.8,0.81,0.82,0.83,0.84,0.85,0.86,0.87,0.88,0.89,0.9,0.91,0.92,0.93,0.94,0.95,0.96,0.97,0.98,0.99],
            "tickSize": {"condition": {"test": "abs(datum.value*10-round(datum.value*10))<0.001", "value": -5}, "value": -2.5},
            "tickWidth": {"condition": {"test": "abs(datum.value*10-round(datum.value*10))<0.001", "value": 1.3}, "value": 0.8}
          }
        },
        "detail": {"field": "c", "type": "nominal"},
        "order": {"field": "o", "type": "quantitative"}
      }
    }
  ],
  "resolve": {"axis": {"x": "independent", "y": "independent"}}
}
